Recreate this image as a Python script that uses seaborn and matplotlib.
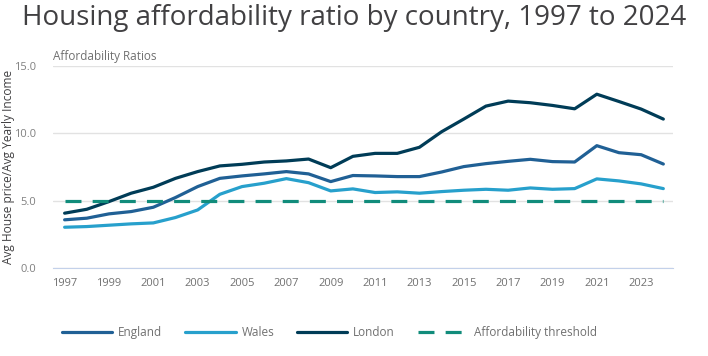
"""Housing affordability ratio by country, 1997 to 2024."""
import matplotlib
matplotlib.use('Agg')
import matplotlib.pyplot as plt
import seaborn as sns
import pandas as pd

years = list(range(1997, 2025))
england = [3.60, 3.72, 4.04, 4.21, 4.53, 5.25, 6.06, 6.67, 6.85, 7.00, 7.17, 7.00, 6.43, 6.88,
           6.85, 6.80, 6.80, 7.14, 7.54, 7.76, 7.93, 8.08, 7.91, 7.88, 9.09, 8.57, 8.42, 7.73]
wales = [3.05, 3.10, 3.20, 3.30, 3.37, 3.77, 4.33, 5.49, 6.06, 6.31, 6.65, 6.35, 5.74, 5.89,
         5.62, 5.67, 5.57, 5.69, 5.79, 5.86, 5.79, 5.96, 5.86, 5.91, 6.63, 6.48, 6.26, 5.91]
london = [4.09, 4.38, 4.95, 5.57, 6.01, 6.67, 7.17, 7.59, 7.71, 7.88, 7.96, 8.10, 7.46, 8.30,
          8.52, 8.52, 8.97, 10.12, 11.06, 12.02, 12.39, 12.27, 12.07, 11.82, 12.90, 12.36, 11.80, 11.06]
threshold = [5.0] * len(years)

series = ['England', 'Wales', 'London']
colors = ['#206095', '#27a0cc', '#003c57']

df = pd.DataFrame({'year': years * 3,
                   'ratio': england + wales + london,
                   'country': sum([[s] * len(years) for s in series], [])})
thr = pd.DataFrame({'year': years, 'ratio': threshold})

sns.set_style('white')
plt.rcParams['font.family'] = ['Open Sans', 'DejaVu Sans']

fig = plt.figure(figsize=(7.08, 3.56), dpi=100)
ax = fig.add_axes([0.075, 0.246, 0.876, 0.569])

grey = '#707070'
sns.lineplot(data=df, x='year', y='ratio', hue='country', palette=dict(zip(series, colors)),
             lw=2.3, ax=ax, legend=False)
sns.lineplot(data=thr, x='year', y='ratio', color='#118c7b', lw=2.3, ax=ax)
ax.lines[-1].set_dashes([5, 3.5])

ax.set_xlim(1996.48, 2024.45)
ax.set_ylim(0, 15)
ax.set_xticks(range(1997, 2024, 2))
ax.set_yticks([0, 5, 10, 15])
ax.set_yticklabels(['0.0', '5.0', '10.0', '15.0'])
ax.grid(axis='y', color='#e2e2e2', lw=1)
ax.set_axisbelow(True)
for s in ['top', 'right', 'left']:
    ax.spines[s].set_visible(False)
ax.spines['bottom'].set_color('#c3d1ea')
ax.tick_params(axis='x', colors='#c3d1ea', length=5, width=1, labelcolor=grey, labelsize=8, pad=2)
ax.tick_params(axis='y', length=0, labelcolor='#808080', labelsize=8, pad=12)
ax.set_xlabel('')
ax.set_ylabel('Avg House price/Avg Yearly Income', color='#414042', fontsize=8.6)
ax.yaxis.set_label_coords(-0.062, 0.5)

fig.text(0.075, 0.822, 'Affordability Ratios', color=grey, fontsize=8.5, ha='left', va='bottom')
fig.suptitle('Housing affordability ratio by country, 1997 to 2024', color='#414042',
             fontsize=20, x=0.5, y=0.99, va='top')

handles = ax.lines[:3] + [ax.lines[-1]]
fig.legend(handles, series + ['Affordability threshold'], loc='center left',
           bbox_to_anchor=(0.072, 0.067), ncol=4, frameon=False, fontsize=8.5,
           handlelength=4.3, columnspacing=1.9, handletextpad=0.5, labelcolor=grey)

plt.savefig('out.png', dpi=100)
plt.close()
